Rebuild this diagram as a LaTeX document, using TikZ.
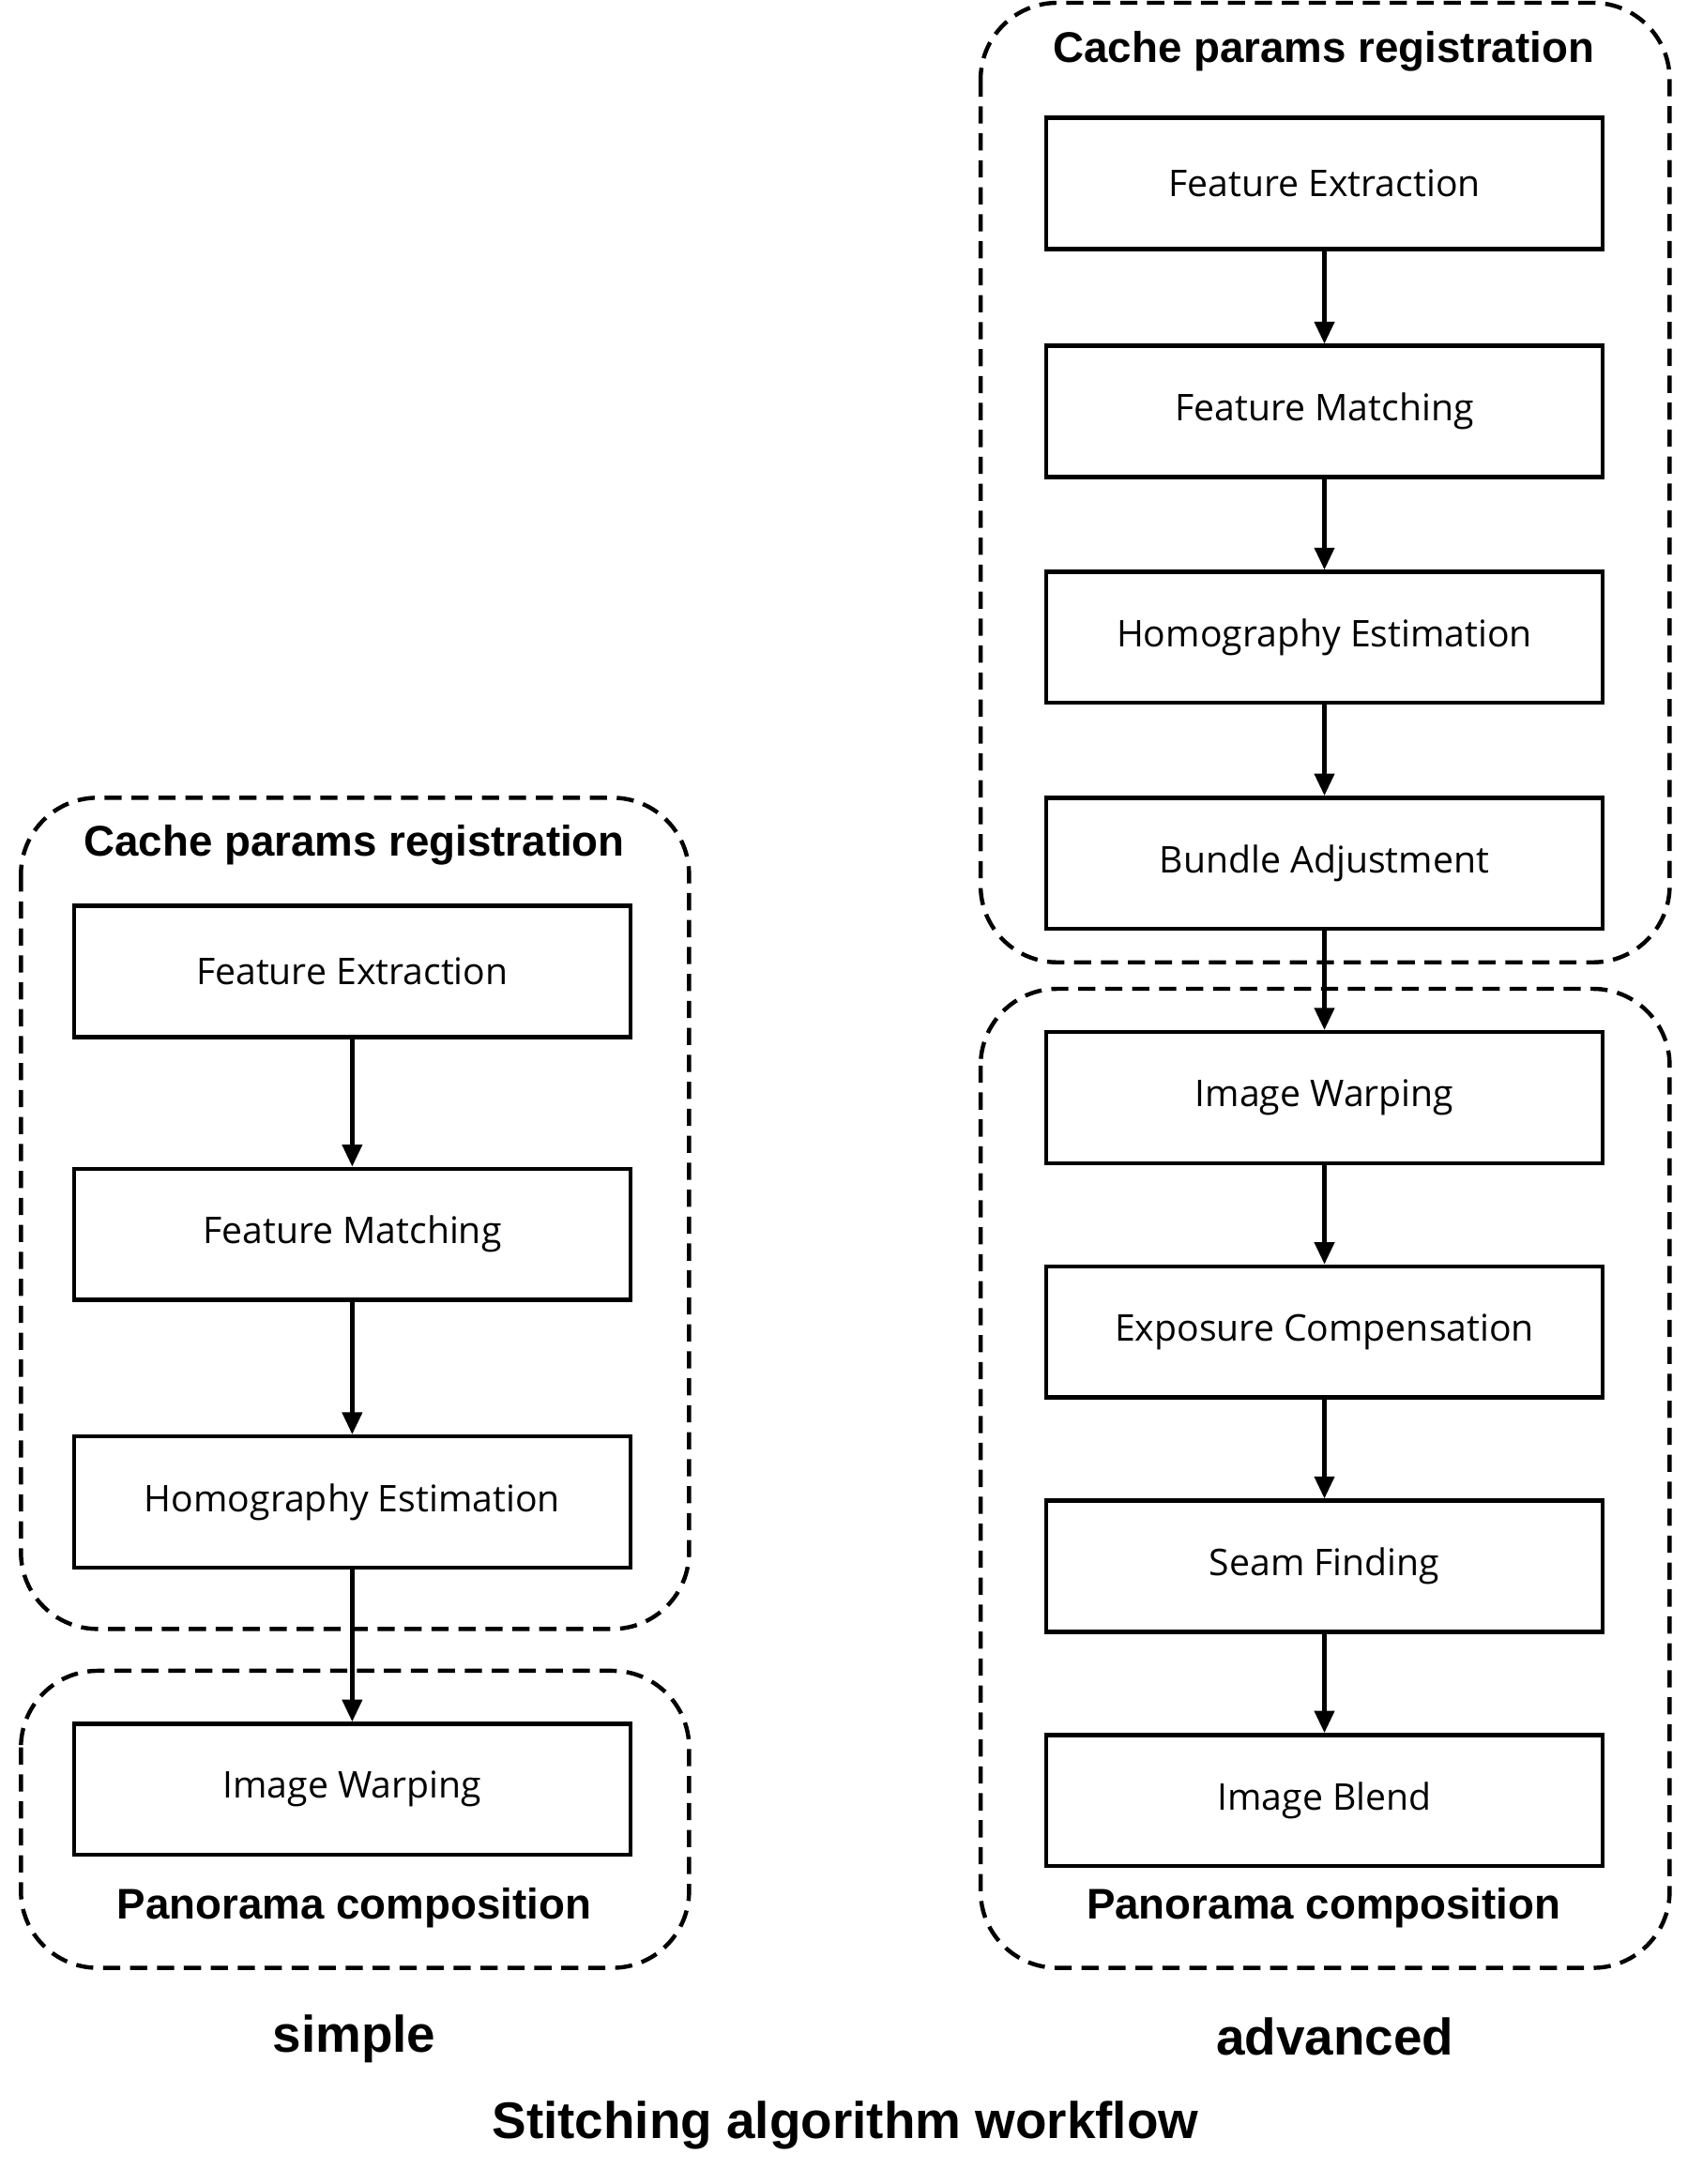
\documentclass[tikz,border=0pt]{standalone}
\usepackage{fontspec}
\setmainfont{Open Sans}
\newfontfamily\bfont{Liberation Sans}[Scale=1]
\usetikzlibrary{arrows.meta}
\begin{document}
\begin{tikzpicture}[x=0.02cm,y=-0.02cm,
  stepbox/.style={draw,line width=1.7pt,minimum width=7.98cm,minimum height=1.88cm,font=\fontsize{15}{17}\selectfont},
  grp/.style={draw,dashed,line width=1.7pt,dash pattern=on 7pt off 4pt,rounded corners=1.1cm},
  ttl/.style={font=\bfont\bfseries\fontsize{17.5}{20}\selectfont},
  arr/.style={-{Triangle[length=9pt,width=8pt]},line width=1.7pt}]
\useasboundingbox (0,0) rectangle (1210,1566);
% left
\draw[grp] (15,572) rectangle (494,1168);
\draw[grp] (15,1198) rectangle (494,1411);
\node[ttl] (lt1) at (254,606) {Cache params registration};
\node[stepbox] (l1) at (252.5,696.5) {Feature Extraction};
\node[stepbox] (l2) at (252.5,885) {Feature Matching};
\node[stepbox] (l3) at (252.5,1077) {Homography Estimation};
\node[stepbox] (l4) at (252.5,1283) {Image Warping};
\node[ttl] (lt2) at (254,1368) {Panorama composition};
\node[ttl,font=\bfont\bfseries\fontsize{21}{24}\selectfont] (ls) at (254,1462) {simple};
\draw[arr] (l1) -- (l2);
\draw[arr] (l2) -- (l3);
\draw[arr] (l3) -- (l4);
% right
\draw[grp] (703,2) rectangle (1197,690);
\draw[grp] (703,709) rectangle (1197,1411);
\node[ttl] (rt1) at (949,37) {Cache params registration};
\node[stepbox] (r1) at (949.5,131.5) {Feature Extraction};
\node[stepbox] (r2) at (949.5,295) {Feature Matching};
\node[stepbox] (r3) at (949.5,457) {Homography Estimation};
\node[stepbox] (r4) at (949.5,619) {Bundle Adjustment};
\node[stepbox] (r5) at (949.5,787) {Image Warping};
\node[stepbox] (r6) at (949.5,955) {Exposure Compensation};
\node[stepbox] (r7) at (949.5,1123) {Seam Finding};
\node[stepbox] (r8) at (949.5,1291) {Image Blend};
\node[ttl] (rt2) at (949,1368) {Panorama composition};
\node[ttl,font=\bfont\bfseries\fontsize{21}{24}\selectfont] (ra) at (957,1460) {advanced};
\foreach \a/\b in {r1/r2,r2/r3,r3/r4,r4/r5,r5/r6,r6/r7,r7/r8} \draw[arr] (\a) -- (\b);
\node[ttl,font=\bfont\bfseries\fontsize{21}{24}\selectfont] (main) at (606,1524) {Stitching algorithm workflow};
\end{tikzpicture}
\end{document}
